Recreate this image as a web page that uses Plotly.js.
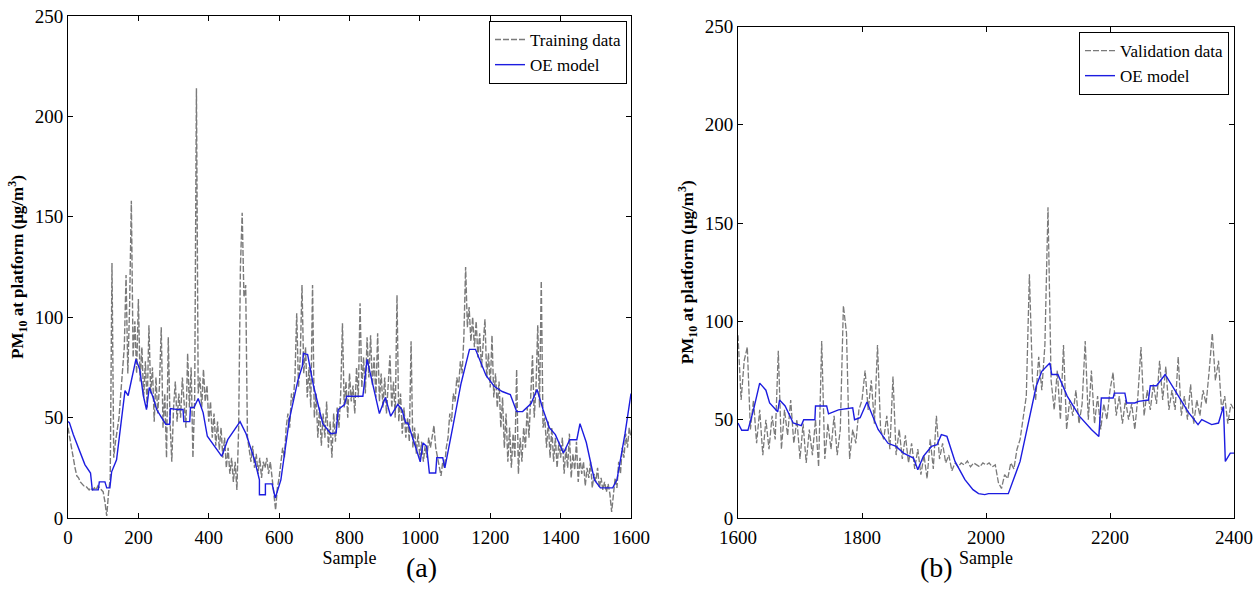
<!DOCTYPE html>
<html>
<head>
<meta charset="utf-8">
<script src="https://cdn.plot.ly/plotly-3.0.1.min.js"></script>
<style>html,body{margin:0;padding:0;background:#fff}#chart{width:1260px;height:600px}</style>
</head>
<body>
<div id="chart"></div>
<script>
// ---- Training data (samples 0..1600, every 5 samples) ----
const trainStart = 0, trainStep = 5;
const trainingData = [
  45,40,33,28,25,21,20,18,17,16,16,15,14,15,14,15,14,16,15,14,
  13,8,1,12,20,127,30,38,45,50,62,75,85,121,72,105,158,80,98,72,
  109,68,85,60,78,55,96,62,75,48,70,52,66,95,45,62,30,90,48,28,
  55,68,48,62,50,70,58,45,82,55,75,30,60,214,62,70,55,74,58,66,
  48,58,40,52,36,48,34,45,30,40,25,35,22,30,18,28,14,45,125,152,
  110,116,40,35,28,36,25,32,22,30,20,28,25,30,22,28,18,12,4,15,
  20,28,35,30,45,52,45,62,58,70,102,65,80,116,72,85,60,75,55,116,
  50,62,40,55,36,52,40,58,35,48,30,52,38,55,45,62,97,55,68,50,
  72,58,66,52,75,60,107,65,80,62,90,70,91,66,80,60,92,58,72,55,
  70,52,65,81,55,68,50,111,48,62,42,55,40,50,38,88,35,45,32,42,
  30,38,28,36,30,40,35,42,46,35,30,26,21,28,25,35,40,52,48,62,
  58,70,65,78,72,90,125,95,105,88,100,85,98,80,92,75,88,99,70,82,
  65,91,60,72,55,68,45,60,35,52,28,45,25,42,30,74,22,40,28,45,
  35,55,40,60,81,50,65,96,55,118,45,50,35,48,30,45,28,40,25,38,
  30,40,22,35,25,42,20,32,24,38,18,30,22,28,16,25,20,28,15,22,
  18,25,15,20,14,18,13,17,12,3,10,20,15,28,22,35,30,42,35,45,
  40
];
// ---- OE model on training segment ----
const trainModelX = [0,4,15,29,48,64,69,86,89,105,110,119,124,138,148,162,171,181,193,204,214,223,231,242,252,266,278,289,291,313,327,329,346,348,358,370,384,396,413,437,454,489,506,530,544,544,561,561,580,589,605,629,654,666,669,681,698,724,747,762,768,786,792,838,850,873,885,902,917,937,949,960,966,1001,1009,1019,1027,1045,1048,1065,1071,1094,1117,1141,1158,1188,1211,1234,1257,1275,1292,1316,1333,1350,1368,1385,1408,1426,1446,1455,1473,1496,1513,1548,1560,1583,1600];
const trainModelY = [48,47.5,41.6,35,26.6,22.4,14,14,18,18,15,15,23,29,42.5,63.4,61,69,79,74,61,54,65,60,54,50,46.7,46.7,54.5,54,54,48,48,55,55,59.5,52.5,40.7,36.5,30.7,39,48,42,29,19,11.6,11.6,17,17,10,19,49,69,75.6,82,81.4,65.6,47,42,42.4,54,56.5,60.6,60.6,79,60.6,52,60,50.7,56.5,54,47.3,47.3,28,37.4,35.7,22.4,22.4,30,30,25,45.7,67,84,84,71,65.6,63,61.5,53,53,57,64,54,45,41.5,32.4,39,39,47,37.6,19,15,15,19,42,62];

// ---- Validation data (samples 1600..2400, every 5 samples) ----
const validStart = 1600, validStep = 5;
const validationData = [
  93,60,80,87,45,60,38,55,32,50,35,52,40,85,35,55,42,60,38,50,
  30,48,28,45,32,50,26,90,30,48,35,52,32,45,108,94,30,45,38,55,
  60,75,55,70,48,88,45,40,52,35,72,32,45,30,42,28,38,25,35,22,
  32,20,40,25,52,30,38,28,32,24,28,26,28,27,29,26,28,27,26,28,
  27,28,26,27,18,15,22,20,28,25,35,40,50,62,124,70,60,82,65,88,
  158,70,55,75,50,88,45,60,52,65,48,58,90,50,75,48,62,45,58,50,
  65,74,52,62,48,60,50,58,45,62,87,52,65,55,68,58,80,60,77,55,
  65,55,82,52,62,50,68,48,60,52,65,58,75,94,70,80,55,62,48,58,
  55
];
// ---- OE model on validation segment ----
const validModelX = [1600,1606,1616,1625,1635,1645,1651,1664,1667,1676,1689,1702,1706,1724,1725,1743,1746,1762,1785,1788,1797,1808,1826,1842,1855,1867,1883,1890,1899,1912,1921,1928,1937,1950,1966,1979,1988,1998,2004,2036,2055,2068,2081,2090,2103,2106,2116,2131,2151,2170,2182,2186,2205,2207,2224,2227,2240,2246,2262,2265,2275,2289,2307,2326,2342,2348,2364,2375,2383,2386,2394,2400];
const validModelY = [48.3,44.6,44.6,55,68.6,65,58.5,54,60,57,48.3,47,50,50,57,57,53,55,56,50,51,59,45,38,36.4,33,30.5,24.6,31.4,36.4,37.3,42.4,41.5,28.8,19.5,14.4,12.4,11.9,12.4,12.4,28.8,48.3,67,74.6,78.8,73,73,62,51.7,45,41.5,61,61,63.5,63.5,58.5,58.5,59.3,60,67.3,67.3,73,63.5,54,47.5,50,47.5,48.3,56.8,28.8,33,33];

// ---- Axis / labels ----
const xTicksA = [0,200,400,600,800,1000,1200,1400,1600];
const xTicksB = [1600,1800,2000,2200,2400];
const yTicks = [0,50,100,150,200,250];
const yTitle = 'PM<sub>10</sub> at platform (μg/m<sup>3</sup>)';

const trainX = trainingData.map((_, i) => trainStart + i * trainStep);
const validX = validationData.map((_, i) => validStart + i * validStep);

const FONT = '"Liberation Serif", "DejaVu Serif", serif';
const GRAY = '#7a7a7a';
const BLUE = '#1c1ce0';

const traces = [
  {x: trainX, y: trainingData, type: 'scatter', mode: 'lines', name: 'Training data',
   line: {color: GRAY, width: 1.4, dash: '6px,2px'}, xaxis: 'x', yaxis: 'y', legend: 'legend'},
  {x: trainModelX, y: trainModelY, type: 'scatter', mode: 'lines', name: 'OE model',
   line: {color: BLUE, width: 1.4}, xaxis: 'x', yaxis: 'y', legend: 'legend'},
  {x: validX, y: validationData, type: 'scatter', mode: 'lines', name: 'Validation data',
   line: {color: GRAY, width: 1.3, dash: '6px,2px'}, xaxis: 'x2', yaxis: 'y2', legend: 'legend2'},
  {x: validModelX, y: validModelY, type: 'scatter', mode: 'lines', name: 'OE model',
   line: {color: BLUE, width: 1.4}, xaxis: 'x2', yaxis: 'y2', legend: 'legend2'}
];

function xAxis(domain, range, ticks, anchor) {
  return {domain: domain, range: range, tickvals: ticks, ticktext: ticks.map(String), anchor: anchor,
    showline: true, linecolor: '#000', linewidth: 1, mirror: 'ticks', ticks: 'inside', ticklen: 5,
    tickcolor: '#000', showgrid: false, zeroline: false, ticklabelstandoff: 2,
    tickfont: {family: FONT, size: 19, color: '#000'},
    title: {text: 'Sample', font: {family: FONT, size: 18, color: '#000'}, standoff: 0}};
}
function yAxis(domain, anchor) {
  return {domain: domain, range: [0, 250], tickvals: yTicks, ticktext: yTicks.map(String), anchor: anchor,
    showline: true, linecolor: '#000', linewidth: 1, mirror: 'ticks', ticks: 'inside', ticklen: 5,
    tickcolor: '#000', showgrid: false, zeroline: false,
    tickfont: {family: FONT, size: 19, color: '#000'},
    title: {text: yTitle, font: {family: FONT, size: 17, color: '#000', weight: 'bold'}, standoff: 6}};
}

const layout = {
  width: 1260, height: 600,
  margin: {l: 0, r: 0, t: 0, b: 0},
  paper_bgcolor: '#fff', plot_bgcolor: '#fff',
  font: {family: FONT, color: '#000'},
  xaxis: xAxis([68/1260, 631/1260], [0, 1600], xTicksA, 'y'),
  yaxis: yAxis([82/600, 584/600], 'x'),
  xaxis2: xAxis([738/1260, 1234/1260], [1600, 2400], xTicksB, 'y2'),
  yaxis2: yAxis([82/600, 573.5/600], 'x2'),
  legend: {x: 627/1260, y: 1 - 21/600, xanchor: 'right', yanchor: 'top',
    bgcolor: '#fff', bordercolor: '#000', borderwidth: 1,
    font: {family: FONT, size: 17, color: '#000'}, tracegroupgap: 0, itemwidth: 30},
  legend2: {x: 1229/1260, y: 1 - 32/600, xanchor: 'right', yanchor: 'top',
    bgcolor: '#fff', bordercolor: '#000', borderwidth: 1,
    font: {family: FONT, size: 17, color: '#000'}, tracegroupgap: 0, itemwidth: 30},
  showlegend: true,
  annotations: [
    {text: '(a)', x: 421/1260, y: 1 - 585/600, xref: 'paper', yref: 'paper', showarrow: false,
     font: {family: FONT, size: 28, color: '#000'}},
    {text: '(b)', x: 955/1260, y: 1 - 585/600, xref: 'paper', yref: 'paper', showarrow: false,
     font: {family: FONT, size: 28, color: '#000'}}
  ]
};

Plotly.newPlot('chart', traces, layout, {staticPlot: true, displayModeBar: false});
</script>
</body>
</html>
